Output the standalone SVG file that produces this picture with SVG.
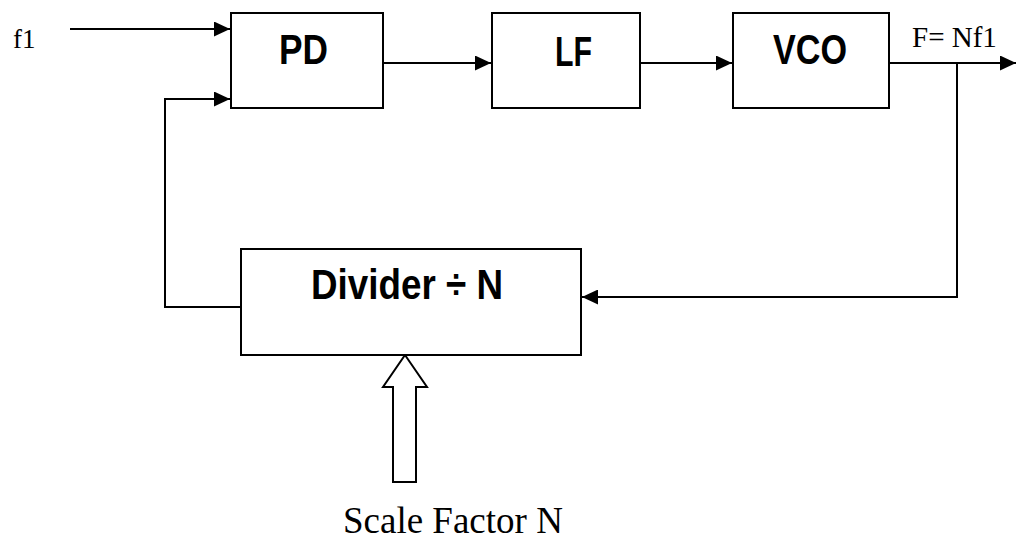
<svg xmlns="http://www.w3.org/2000/svg" width="1018" height="540" viewBox="0 0 1018 540">
  <style>
    .box { fill: #fff; stroke: #000; stroke-width: 2; }
    .wire { fill: none; stroke: #000; stroke-width: 2; }
    .blk { font-family: "Liberation Sans Narrow", "Arial Narrow", "Liberation Sans", sans-serif; font-weight: bold; font-size: 42px; fill: #000; }
    .sig { font-family: "Liberation Serif", "Times New Roman", serif; fill: #000; }
  </style>
  <defs>
    <marker id="arrow" markerUnits="userSpaceOnUse" markerWidth="16" markerHeight="15" refX="16" refY="7.5" orient="auto">
      <path d="M0,0 L16,7.5 L0,15 Z" fill="#000"/>
    </marker>
  </defs>

  <!-- signal connectors -->
  <g id="connectors">
    <path class="wire" d="M70,29 H230" marker-end="url(#arrow)"/>
    <path class="wire" d="M383,63 H491" marker-end="url(#arrow)"/>
    <path class="wire" d="M640,63 H732" marker-end="url(#arrow)"/>
    <path class="wire" d="M889,63 H1016" marker-end="url(#arrow)"/>
    <path class="wire" d="M957,63 V297 H582" marker-end="url(#arrow)"/>
    <path class="wire" d="M241,307 H165 V99 H230" marker-end="url(#arrow)"/>
    <!-- hollow input arrow for the scale factor -->
    <path class="wire" d="M405,355 L427,387 H416 V482 H393 V387 H383 Z"/>
  </g>

  <!-- block labels are condensed to a narrow face with textLength -->
  <g id="pd">
    <rect class="box" x="231" y="13" width="152" height="95"/>
    <text class="blk" x="279" y="64" textLength="49" lengthAdjust="spacingAndGlyphs">PD</text>
  </g>
  <g id="lf">
    <rect class="box" x="492" y="13" width="148" height="95"/>
    <text class="blk" x="555" y="66" textLength="37" lengthAdjust="spacingAndGlyphs">LF</text>
  </g>
  <g id="vco">
    <rect class="box" x="733" y="13" width="156" height="95"/>
    <text class="blk" x="773" y="64" textLength="74" lengthAdjust="spacingAndGlyphs">VCO</text>
  </g>
  <g id="divider">
    <rect class="box" x="241" y="249" width="340" height="106"/>
    <text class="blk" x="311" y="299" textLength="192" lengthAdjust="spacingAndGlyphs">Divider ÷ N</text>
  </g>

  <g id="labels">
    <text class="sig" x="13" y="48" font-size="27">f1</text>
    <text class="sig" x="912" y="47" font-size="29">F= Nf1</text>
    <text class="sig" x="343" y="533" font-size="37">Scale Factor N</text>
  </g>
</svg>
